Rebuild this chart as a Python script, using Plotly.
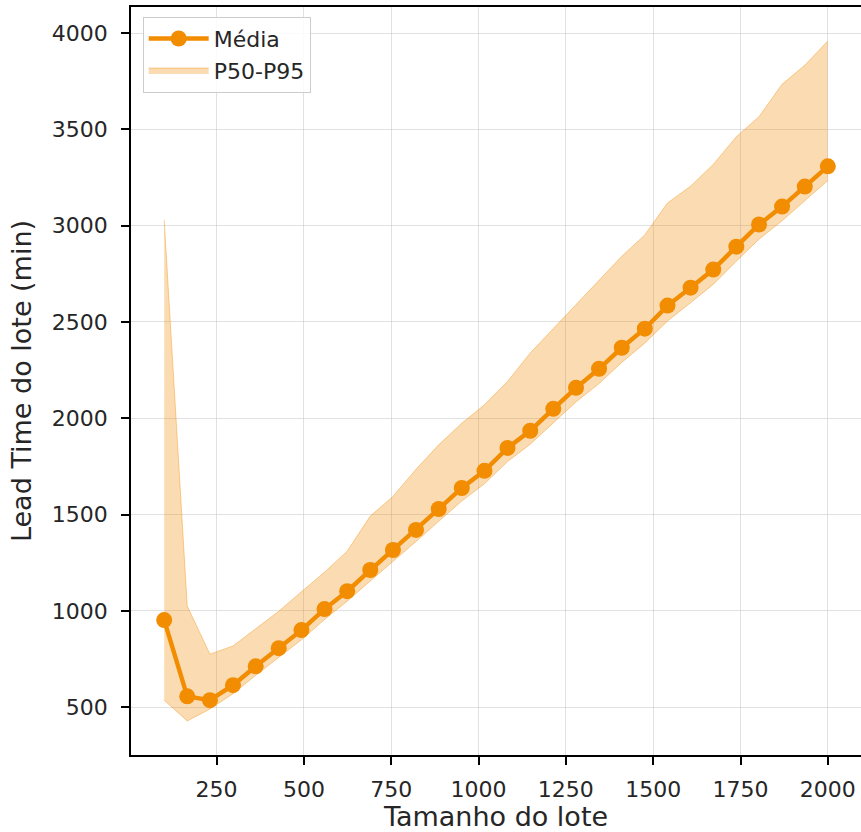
import plotly.graph_objects as go

tamanho = [100, 166, 231, 297, 362, 428, 493, 559, 624, 690,
           755, 821, 886, 952, 1017, 1083, 1148, 1214, 1279, 1345,
           1410, 1476, 1541, 1607, 1672, 1738, 1803, 1869, 1934, 2000]
media = [952, 556, 536, 614, 712, 806, 900, 1009, 1102, 1212,
         1316, 1420, 1529, 1638, 1727, 1846, 1935, 2049, 2158, 2257,
         2366, 2465, 2585, 2678, 2772, 2891, 3006, 3099, 3203, 3308]
p95 = [3030, 1025, 775, 818, 907, 998, 1099, 1201, 1310, 1492,
       1594, 1735, 1862, 1974, 2070, 2191, 2339, 2465, 2587, 2714,
       2841, 2952, 3118, 3205, 3318, 3462, 3566, 3734, 3833, 3959]
p50 = [536, 428, 490, 570, 665, 758, 850, 955, 1050, 1155,
       1255, 1360, 1465, 1570, 1660, 1775, 1865, 1975, 2085, 2180,
       2290, 2390, 2505, 2600, 2695, 2815, 2930, 3025, 3130, 3235]

x_ticks = [250, 500, 750, 1000, 1250, 1500, 1750, 2000]
y_ticks = [500, 1000, 1500, 2000, 2500, 3000, 3500, 4000]

ORANGE = "#F28C00"
FONT = "DejaVu Sans"
TXT = "#262626"

fig = go.Figure()
fig.add_trace(go.Scatter(x=tamanho, y=p95, mode="lines",
                         line=dict(color="rgba(242,140,0,0.4)", width=1),
                         showlegend=False, hoverinfo="skip"))
fig.add_trace(go.Scatter(x=tamanho, y=p50, mode="lines", fill="tonexty",
                         fillcolor="rgba(242,140,0,0.3)",
                         line=dict(color="rgba(242,140,0,0.4)", width=1),
                         name="P50-P95", legendrank=2))
fig.add_trace(go.Scatter(x=tamanho, y=media, mode="lines+markers",
                         line=dict(color=ORANGE, width=4.4),
                         marker=dict(color=ORANGE, size=16),
                         name="Média", legendrank=1))

axis_common = dict(
    showline=True, linecolor="black", linewidth=1.8, mirror=True,
    ticks="outside", ticklen=8, tickwidth=1.8, tickcolor="black",
    showgrid=True, gridcolor="rgba(200,200,200,0.55)", gridwidth=1.2,
    zeroline=False, automargin=False,
    tickfont=dict(family=FONT, size=22, color=TXT),
)

fig.update_layout(
    width=861, height=832,
    margin=dict(l=131, r=0, t=7, b=77),
    paper_bgcolor="white", plot_bgcolor="white",
    font=dict(family=FONT, color=TXT),
    xaxis=dict(range=[5, 2095], tickvals=x_ticks, ticklabelstandoff=6,
               title=dict(text="Tamanho do lote", font=dict(family=FONT, size=27, color=TXT), standoff=8),
               **axis_common),
    yaxis=dict(range=[251.5, 4135.5], tickvals=y_ticks, ticklabelstandoff=9,
               title=dict(text="Lead Time do lote (min)", font=dict(family=FONT, size=27, color=TXT), standoff=12),
               **axis_common),
    legend=dict(x=0.016, y=0.987, xanchor="left", yanchor="top",
                bgcolor="rgba(255,255,255,0.85)", bordercolor="#cccccc", borderwidth=1,
                itemwidth=60,
                font=dict(family=FONT, size=22, color=TXT), traceorder="normal"),
)

fig.write_html("out.html", post_script="document.body.style.margin='0';",
               config={"displayModeBar": False})
